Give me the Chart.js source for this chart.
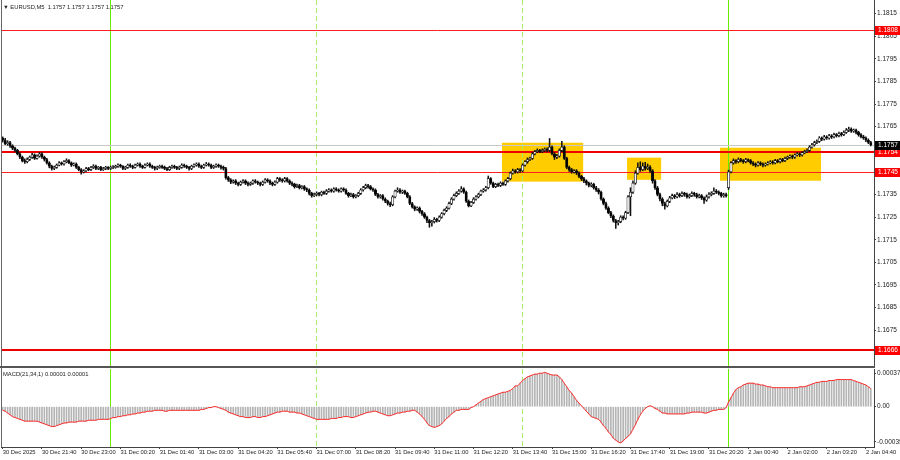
<!DOCTYPE html>
<html>
<head>
<meta charset="utf-8">
<title>EURUSD M5</title>
<script src="https://cdn.jsdelivr.net/npm/chart.js@4.4.1/dist/chart.umd.min.js"></script>
<style>
  body { margin: 0; background: #fff; }
  #chart { position: relative; width: 900px; height: 460px; font-family: "Liberation Sans", "DejaVu Sans", sans-serif; }
  .pane { position: absolute; left: 0; width: 900px; }
  .label { position: absolute; left: 3px; font-size: 5.8px; line-height: 8px; color: #222; white-space: pre; }
</style>
</head>
<body>
<div id="chart">
  <div class="pane" style="top:0;height:368px"><canvas id="price"></canvas></div>
  <div class="pane" style="top:368px;height:92px"><canvas id="macd"></canvas></div>
  <div class="label" style="top:3px">▼ EURUSD,M5  1.1757 1.1757 1.1757 1.1757</div>
  <div class="label" style="top:370px">MACD(21,34,1) 0.00001 0.00001</div>
</div>
<script>
// M5 bars from 30 Dec 20:20 to 2 Jan 04:50 (market closed on 1 Jan)
var tickBars = [0, 16, 32, 48, 64, 80, 96, 112, 128, 144, 160, 176, 192, 208, 224, 240, 256, 272, 288, 304, 320, 336, 352];
var tickLabels = ['30 Dec 2025', '30 Dec 21:40', '30 Dec 23:00', '31 Dec 00:20', '31 Dec 01:40', '31 Dec 03:00',
                  '31 Dec 04:20', '31 Dec 05:40', '31 Dec 07:00', '31 Dec 08:20', '31 Dec 09:40', '31 Dec 11:00',
                  '31 Dec 12:20', '31 Dec 13:40', '31 Dec 15:00', '31 Dec 16:20', '31 Dec 17:40', '31 Dec 19:00',
                  '31 Dec 20:20', '2 Jan 00:40', '2 Jan 02:00', '2 Jan 03:20', '2 Jan 04:40'];
var priceTicks = [1.1815, 1.1805, 1.1795, 1.1785, 1.1775, 1.1765, 1.1755, 1.1745, 1.1735, 1.1725, 1.1715,
                  1.1705, 1.1695, 1.1685, 1.1675, 1.1665];
var macdTicks = [37, 0, -39]; // in points of 0.00001

var opens = [
  1.17600,1.17590,1.17575,1.17580,1.17565,1.17555,1.17545,1.17530,1.17515,1.17500,
  1.17495,1.17505,1.17515,1.17525,1.17510,1.17520,1.17530,1.17515,1.17505,1.17490,
  1.17475,1.17465,1.17470,1.17480,1.17490,1.17485,1.17495,1.17500,1.17490,1.17480,
  1.17485,1.17470,1.17460,1.17450,1.17455,1.17465,1.17460,1.17470,1.17475,1.17465,
  1.17470,1.17460,1.17465,1.17470,1.17465,1.17470,1.17470,1.17475,1.17480,1.17475,
  1.17465,1.17470,1.17480,1.17475,1.17470,1.17480,1.17485,1.17475,1.17470,1.17480,
  1.17485,1.17475,1.17470,1.17465,1.17470,1.17475,1.17470,1.17465,1.17460,1.17470,
  1.17475,1.17470,1.17465,1.17470,1.17480,1.17475,1.17470,1.17465,1.17475,1.17480,
  1.17485,1.17475,1.17470,1.17480,1.17485,1.17480,1.17470,1.17475,1.17480,1.17475,
  1.17470,1.17465,1.17425,1.17415,1.17405,1.17410,1.17400,1.17395,1.17405,1.17410,
  1.17400,1.17395,1.17400,1.17410,1.17405,1.17400,1.17395,1.17405,1.17415,1.17410,
  1.17400,1.17395,1.17405,1.17420,1.17415,1.17410,1.17420,1.17410,1.17400,1.17395,
  1.17385,1.17390,1.17380,1.17385,1.17375,1.17370,1.17355,1.17345,1.17350,1.17355,
  1.17350,1.17360,1.17355,1.17365,1.17370,1.17365,1.17375,1.17370,1.17365,1.17375,
  1.17370,1.17355,1.17345,1.17350,1.17340,1.17345,1.17355,1.17370,1.17380,1.17390,
  1.17385,1.17375,1.17370,1.17350,1.17340,1.17345,1.17330,1.17320,1.17310,1.17305,
  1.17340,1.17365,1.17370,1.17360,1.17365,1.17355,1.17340,1.17310,1.17295,1.17285,
  1.17290,1.17275,1.17265,1.17250,1.17235,1.17225,1.17230,1.17240,1.17235,1.17250,
  1.17265,1.17280,1.17290,1.17310,1.17330,1.17345,1.17355,1.17365,1.17375,1.17360,
  1.17320,1.17300,1.17315,1.17330,1.17340,1.17350,1.17365,1.17370,1.17380,1.17420,
  1.17400,1.17385,1.17395,1.17390,1.17400,1.17395,1.17410,1.17420,1.17445,1.17455,
  1.17450,1.17460,1.17455,1.17480,1.17495,1.17505,1.17510,1.17530,1.17540,1.17545,
  1.17540,1.17545,1.17550,1.17545,1.17560,1.17530,1.17515,1.17520,1.17545,1.17560,
  1.17510,1.17470,1.17460,1.17450,1.17455,1.17445,1.17430,1.17420,1.17410,1.17400,
  1.17390,1.17395,1.17380,1.17370,1.17360,1.17330,1.17310,1.17290,1.17270,1.17255,
  1.17235,1.17225,1.17230,1.17250,1.17245,1.17270,1.17340,1.17360,1.17400,1.17445,
  1.17470,1.17460,1.17475,1.17465,1.17470,1.17455,1.17410,1.17380,1.17350,1.17330,
  1.17310,1.17300,1.17320,1.17335,1.17345,1.17340,1.17350,1.17345,1.17355,1.17350,
  1.17340,1.17345,1.17355,1.17350,1.17340,1.17345,1.17335,1.17325,1.17340,1.17350,
  1.17355,1.17365,1.17360,1.17355,1.17345,1.17350,1.17380,1.17450,1.17490,1.17500,
  1.17495,1.17505,1.17500,1.17495,1.17505,1.17500,1.17490,1.17485,1.17480,1.17490,
  1.17485,1.17480,1.17485,1.17490,1.17495,1.17490,1.17500,1.17495,1.17505,1.17500,
  1.17510,1.17515,1.17520,1.17515,1.17525,1.17530,1.17525,1.17535,1.17540,1.17545,
  1.17560,1.17570,1.17580,1.17585,1.17600,1.17595,1.17605,1.17600,1.17610,1.17605,
  1.17615,1.17610,1.17620,1.17615,1.17625,1.17635,1.17640,1.17630,1.17635,1.17625,
  1.17615,1.17605,1.17600,1.17590,1.17580];
var highs = [
  1.17605,1.17598,1.17588,1.17585,1.17570,1.17560,1.17550,1.17535,1.17520,1.17508,
  1.17512,1.17520,1.17532,1.17530,1.17525,1.17536,1.17535,1.17520,1.17510,1.17495,
  1.17480,1.17476,1.17485,1.17496,1.17494,1.17500,1.17508,1.17504,1.17494,1.17490,
  1.17490,1.17475,1.17465,1.17460,1.17470,1.17470,1.17475,1.17482,1.17480,1.17474,
  1.17475,1.17470,1.17475,1.17474,1.17476,1.17478,1.17480,1.17486,1.17484,1.17478,
  1.17475,1.17485,1.17486,1.17480,1.17485,1.17490,1.17490,1.17480,1.17486,1.17490,
  1.17490,1.17480,1.17475,1.17476,1.17480,1.17480,1.17476,1.17470,1.17475,1.17480,
  1.17480,1.17475,1.17476,1.17486,1.17485,1.17480,1.17475,1.17480,1.17486,1.17490,
  1.17490,1.17480,1.17485,1.17492,1.17490,1.17485,1.17480,1.17486,1.17485,1.17480,
  1.17476,1.17470,1.17430,1.17420,1.17415,1.17416,1.17405,1.17410,1.17416,1.17415,
  1.17406,1.17405,1.17415,1.17416,1.17410,1.17405,1.17410,1.17420,1.17420,1.17415,
  1.17405,1.17410,1.17426,1.17425,1.17420,1.17426,1.17425,1.17415,1.17406,1.17400,
  1.17396,1.17395,1.17390,1.17390,1.17380,1.17375,1.17360,1.17356,1.17362,1.17360,
  1.17365,1.17365,1.17372,1.17376,1.17375,1.17380,1.17380,1.17375,1.17380,1.17380,
  1.17375,1.17360,1.17356,1.17355,1.17350,1.17360,1.17376,1.17386,1.17396,1.17395,
  1.17390,1.17380,1.17375,1.17355,1.17350,1.17350,1.17335,1.17325,1.17316,1.17345,
  1.17370,1.17380,1.17376,1.17370,1.17370,1.17360,1.17345,1.17315,1.17300,1.17296,
  1.17295,1.17280,1.17270,1.17255,1.17240,1.17236,1.17248,1.17245,1.17256,1.17270,
  1.17286,1.17296,1.17316,1.17336,1.17352,1.17362,1.17372,1.17385,1.17380,1.17365,
  1.17326,1.17320,1.17336,1.17345,1.17356,1.17370,1.17376,1.17386,1.17432,1.17425,
  1.17405,1.17400,1.17400,1.17406,1.17405,1.17415,1.17426,1.17450,1.17462,1.17460,
  1.17466,1.17465,1.17486,1.17500,1.17512,1.17516,1.17536,1.17546,1.17552,1.17550,
  1.17552,1.17556,1.17556,1.17598,1.17565,1.17535,1.17528,1.17552,1.17585,1.17566,
  1.17515,1.17476,1.17466,1.17460,1.17460,1.17450,1.17435,1.17426,1.17415,1.17405,
  1.17402,1.17400,1.17386,1.17376,1.17365,1.17335,1.17316,1.17296,1.17276,1.17260,
  1.17240,1.17236,1.17256,1.17256,1.17276,1.17345,1.17380,1.17410,1.17455,1.17490,
  1.17495,1.17490,1.17492,1.17485,1.17478,1.17460,1.17416,1.17386,1.17356,1.17336,
  1.17316,1.17326,1.17342,1.17352,1.17350,1.17358,1.17356,1.17362,1.17360,1.17356,
  1.17352,1.17362,1.17360,1.17356,1.17352,1.17350,1.17340,1.17348,1.17358,1.17362,
  1.17380,1.17372,1.17366,1.17360,1.17356,1.17356,1.17458,1.17496,1.17508,1.17505,
  1.17512,1.17510,1.17505,1.17510,1.17508,1.17505,1.17496,1.17490,1.17496,1.17495,
  1.17490,1.17490,1.17496,1.17500,1.17500,1.17506,1.17505,1.17510,1.17510,1.17516,
  1.17520,1.17526,1.17525,1.17530,1.17536,1.17535,1.17540,1.17546,1.17552,1.17566,
  1.17576,1.17586,1.17592,1.17606,1.17605,1.17612,1.17610,1.17616,1.17615,1.17622,
  1.17620,1.17626,1.17625,1.17632,1.17642,1.17648,1.17645,1.17640,1.17640,1.17630,
  1.17620,1.17612,1.17605,1.17596,1.17585];
var lows = [
  1.17582,1.17570,1.17568,1.17558,1.17548,1.17538,1.17525,1.17508,1.17494,1.17488,
  1.17490,1.17500,1.17510,1.17505,1.17506,1.17515,1.17510,1.17498,1.17484,1.17468,
  1.17458,1.17460,1.17466,1.17476,1.17480,1.17480,1.17490,1.17486,1.17474,1.17476,
  1.17465,1.17455,1.17440,1.17445,1.17450,1.17455,1.17456,1.17465,1.17460,1.17460,
  1.17455,1.17456,1.17460,1.17460,1.17460,1.17464,1.17466,1.17470,1.17470,1.17460,
  1.17460,1.17465,1.17470,1.17464,1.17466,1.17476,1.17470,1.17465,1.17466,1.17476,
  1.17470,1.17465,1.17458,1.17460,1.17466,1.17465,1.17460,1.17455,1.17456,1.17465,
  1.17465,1.17460,1.17460,1.17466,1.17470,1.17465,1.17458,1.17460,1.17470,1.17475,
  1.17470,1.17464,1.17465,1.17476,1.17475,1.17464,1.17465,1.17470,1.17470,1.17462,
  1.17458,1.17418,1.17408,1.17398,1.17400,1.17394,1.17388,1.17390,1.17400,1.17394,
  1.17388,1.17390,1.17395,1.17400,1.17394,1.17388,1.17390,1.17400,1.17404,1.17394,
  1.17388,1.17390,1.17400,1.17408,1.17404,1.17405,1.17405,1.17394,1.17388,1.17378,
  1.17380,1.17374,1.17375,1.17368,1.17362,1.17348,1.17338,1.17340,1.17344,1.17344,
  1.17344,1.17350,1.17350,1.17360,1.17360,1.17360,1.17365,1.17360,1.17360,1.17364,
  1.17350,1.17338,1.17340,1.17334,1.17335,1.17340,1.17350,1.17365,1.17375,1.17378,
  1.17370,1.17364,1.17345,1.17334,1.17334,1.17325,1.17314,1.17303,1.17296,1.17300,
  1.17335,1.17360,1.17355,1.17354,1.17350,1.17335,1.17305,1.17290,1.17278,1.17280,
  1.17268,1.17258,1.17244,1.17225,1.17205,1.17210,1.17224,1.17228,1.17230,1.17245,
  1.17260,1.17274,1.17285,1.17305,1.17325,1.17340,1.17350,1.17360,1.17355,1.17315,
  1.17295,1.17296,1.17310,1.17325,1.17335,1.17345,1.17360,1.17365,1.17375,1.17395,
  1.17380,1.17380,1.17385,1.17385,1.17390,1.17390,1.17405,1.17415,1.17440,1.17444,
  1.17445,1.17448,1.17450,1.17475,1.17488,1.17500,1.17505,1.17525,1.17535,1.17535,
  1.17535,1.17540,1.17538,1.17540,1.17525,1.17505,1.17508,1.17515,1.17540,1.17505,
  1.17464,1.17452,1.17444,1.17444,1.17438,1.17424,1.17412,1.17402,1.17392,1.17384,
  1.17384,1.17374,1.17364,1.17352,1.17325,1.17304,1.17284,1.17265,1.17248,1.17228,
  1.17200,1.17215,1.17225,1.17238,1.17240,1.17265,1.17256,1.17355,1.17395,1.17440,
  1.17452,1.17455,1.17458,1.17460,1.17448,1.17400,1.17372,1.17344,1.17322,1.17300,
  1.17285,1.17295,1.17314,1.17330,1.17332,1.17335,1.17338,1.17340,1.17342,1.17334,
  1.17334,1.17340,1.17342,1.17334,1.17335,1.17328,1.17310,1.17320,1.17334,1.17344,
  1.17350,1.17354,1.17348,1.17338,1.17338,1.17338,1.17372,1.17445,1.17484,1.17488,
  1.17490,1.17494,1.17488,1.17490,1.17494,1.17484,1.17478,1.17472,1.17475,1.17478,
  1.17472,1.17475,1.17480,1.17485,1.17484,1.17485,1.17490,1.17490,1.17494,1.17495,
  1.17504,1.17510,1.17508,1.17510,1.17520,1.17518,1.17520,1.17530,1.17535,1.17540,
  1.17555,1.17564,1.17575,1.17580,1.17588,1.17590,1.17594,1.17595,1.17598,1.17600,
  1.17604,1.17605,1.17608,1.17610,1.17620,1.17628,1.17625,1.17625,1.17618,1.17608,
  1.17600,1.17594,1.17584,1.17575,1.17565];
var closes = [
  1.17590,1.17575,1.17580,1.17565,1.17555,1.17545,1.17530,1.17515,1.17500,1.17495,
  1.17505,1.17515,1.17525,1.17510,1.17520,1.17530,1.17515,1.17505,1.17490,1.17475,
  1.17465,1.17470,1.17480,1.17490,1.17485,1.17495,1.17500,1.17490,1.17480,1.17485,
  1.17470,1.17460,1.17450,1.17455,1.17465,1.17460,1.17470,1.17475,1.17465,1.17470,
  1.17460,1.17465,1.17470,1.17465,1.17470,1.17470,1.17475,1.17480,1.17475,1.17465,
  1.17470,1.17480,1.17475,1.17470,1.17480,1.17485,1.17475,1.17470,1.17480,1.17485,
  1.17475,1.17470,1.17465,1.17470,1.17475,1.17470,1.17465,1.17460,1.17470,1.17475,
  1.17470,1.17465,1.17470,1.17480,1.17475,1.17470,1.17465,1.17475,1.17480,1.17485,
  1.17475,1.17470,1.17480,1.17485,1.17480,1.17470,1.17475,1.17480,1.17475,1.17470,
  1.17465,1.17425,1.17415,1.17405,1.17410,1.17400,1.17395,1.17405,1.17410,1.17400,
  1.17395,1.17400,1.17410,1.17405,1.17400,1.17395,1.17405,1.17415,1.17410,1.17400,
  1.17395,1.17405,1.17420,1.17415,1.17410,1.17420,1.17410,1.17400,1.17395,1.17385,
  1.17390,1.17380,1.17385,1.17375,1.17370,1.17355,1.17345,1.17350,1.17355,1.17350,
  1.17360,1.17355,1.17365,1.17370,1.17365,1.17375,1.17370,1.17365,1.17375,1.17370,
  1.17355,1.17345,1.17350,1.17340,1.17345,1.17355,1.17370,1.17380,1.17390,1.17385,
  1.17375,1.17370,1.17350,1.17340,1.17345,1.17330,1.17320,1.17310,1.17305,1.17340,
  1.17365,1.17370,1.17360,1.17365,1.17355,1.17340,1.17310,1.17295,1.17285,1.17290,
  1.17275,1.17265,1.17250,1.17235,1.17225,1.17230,1.17240,1.17235,1.17250,1.17265,
  1.17280,1.17290,1.17310,1.17330,1.17345,1.17355,1.17365,1.17375,1.17360,1.17320,
  1.17300,1.17315,1.17330,1.17340,1.17350,1.17365,1.17370,1.17380,1.17420,1.17400,
  1.17385,1.17395,1.17390,1.17400,1.17395,1.17410,1.17420,1.17445,1.17455,1.17450,
  1.17460,1.17455,1.17480,1.17495,1.17505,1.17510,1.17530,1.17540,1.17545,1.17540,
  1.17545,1.17550,1.17545,1.17560,1.17530,1.17515,1.17520,1.17545,1.17560,1.17510,
  1.17470,1.17460,1.17450,1.17455,1.17445,1.17430,1.17420,1.17410,1.17400,1.17390,
  1.17395,1.17380,1.17370,1.17360,1.17330,1.17310,1.17290,1.17270,1.17255,1.17235,
  1.17225,1.17230,1.17250,1.17245,1.17270,1.17340,1.17360,1.17400,1.17445,1.17470,
  1.17460,1.17475,1.17465,1.17470,1.17455,1.17410,1.17380,1.17350,1.17330,1.17310,
  1.17300,1.17320,1.17335,1.17345,1.17340,1.17350,1.17345,1.17355,1.17350,1.17340,
  1.17345,1.17355,1.17350,1.17340,1.17345,1.17335,1.17325,1.17340,1.17350,1.17355,
  1.17365,1.17360,1.17355,1.17345,1.17350,1.17345,1.17450,1.17490,1.17500,1.17495,
  1.17505,1.17500,1.17495,1.17505,1.17500,1.17490,1.17485,1.17480,1.17490,1.17485,
  1.17480,1.17485,1.17490,1.17495,1.17490,1.17500,1.17495,1.17505,1.17500,1.17510,
  1.17515,1.17520,1.17515,1.17525,1.17530,1.17525,1.17535,1.17540,1.17545,1.17560,
  1.17570,1.17580,1.17585,1.17600,1.17595,1.17605,1.17600,1.17610,1.17605,1.17615,
  1.17610,1.17620,1.17615,1.17625,1.17635,1.17640,1.17630,1.17635,1.17625,1.17615,
  1.17605,1.17600,1.17590,1.17580,1.17570];

// MACD(21,34,1) main value, in points of 0.00001 (signal period 1 = same line)
var macd = [
  -4,-5,-7,-9,-11,-12,-13,-14,-15,-16,
  -16,-16,-16,-16,-16,-17,-18,-19,-20,-21,
  -22,-22,-21,-20,-19,-18,-18,-17,-17,-17,
  -17,-16,-16,-16,-16,-15,-15,-15,-15,-14,
  -14,-14,-14,-14,-13,-12,-12,-11,-11,-10,
  -10,-9,-9,-8,-8,-7,-7,-6,-6,-5,
  -5,-5,-4,-4,-4,-4,-5,-5,-4,-4,
  -4,-4,-4,-4,-4,-4,-4,-4,-4,-4,
  -4,-3,-3,-2,-1,-1,0,0,-1,-2,
  -3,-4,-6,-7,-8,-9,-10,-11,-11,-12,
  -12,-12,-11,-11,-12,-12,-11,-11,-10,-9,
  -8,-7,-6,-6,-5,-5,-5,-6,-6,-6,
  -7,-7,-8,-9,-10,-11,-12,-13,-14,-14,
  -14,-14,-14,-14,-13,-13,-13,-12,-12,-11,
  -11,-11,-12,-12,-11,-10,-9,-8,-7,-6,
  -6,-5,-5,-6,-7,-8,-9,-10,-10,-9,
  -8,-7,-7,-6,-6,-5,-5,-4,-4,-6,
  -8,-11,-14,-18,-21,-22,-23,-22,-21,-19,
  -16,-13,-11,-8,-6,-4,-4,-3,-3,-3,
  -3,-1,0,2,4,6,8,9,10,11,
  12,13,14,15,16,16,17,18,20,23,
  23,26,29,31,33,34,35,36,36,37,
  37,38,37,36,35,35,35,33,30,26,
  22,18,15,11,7,4,1,-2,-5,-8,
  -11,-12,-13,-14,-17,-21,-24,-28,-31,-35,
  -37,-39,-40,-38,-35,-33,-30,-25,-20,-14,
  -9,-5,-2,0,1,0,-2,-3,-5,-7,
  -7,-8,-8,-8,-8,-8,-8,-8,-8,-7,
  -7,-6,-6,-6,-6,-6,-7,-7,-6,-5,
  -4,-4,-3,-3,-3,-1,5,10,15,19,
  21,22,24,25,26,26,26,25,25,24,
  24,23,22,22,21,21,21,21,21,21,
  21,21,21,21,21,22,22,22,23,24,
  25,26,27,27,28,28,28,29,29,29,
  30,30,30,30,30,30,30,29,28,27,
  26,25,24,22,20];

var redLevels = [1.1808, 1.1754, 1.1745, 1.1666];
var bidPrice = 1.1757;
var daySeps = [43.7, 295.8];     // 31 Dec 00:00, 2 Jan 00:00
var sessionSeps = [127.6, 211.6]; // 31 Dec 07:00, 31 Dec 14:00
// yellow zones: first bar, last bar, low price, high price
var zones = [[203.6, 236.7, 1.17407, 1.17579],
             [254.6, 268.5, 1.17415, 1.17513],
             [292.5, 333.7, 1.17411, 1.17557]];

var FONT = '"Liberation Sans", "DejaVu Sans", sans-serif';
var redWidths = [1, 2, 1, 2];
var X_MIN = -0.7, X_MAX = 355.3;

var bars = closes.map(function (c, i) { return i; });

function crisp(v) { return Math.round(v) + 0.5; }

function drawSeps(chart) {
    var ctx = chart.ctx, a = chart.chartArea, x = chart.scales.x;
    ctx.save();
    ctx.lineWidth = 1;
    ctx.strokeStyle = '#66ee00';
    daySeps.forEach(function (b) {
        var px = crisp(x.getPixelForValue(b));
        ctx.beginPath(); ctx.moveTo(px, a.top); ctx.lineTo(px, a.bottom); ctx.stroke();
    });
    ctx.strokeStyle = '#a8ec6a';
    ctx.setLineDash([5, 3]);
    sessionSeps.forEach(function (b) {
        var px = crisp(x.getPixelForValue(b));
        ctx.beginPath(); ctx.moveTo(px, a.top); ctx.lineTo(px, a.bottom); ctx.stroke();
    });
    ctx.restore();
}

function drawFrame(chart) {
    var ctx = chart.ctx, a = chart.chartArea;
    ctx.save();
    ctx.fillStyle = '#666';
    ctx.fillRect(Math.round(a.left), 0, 1, a.bottom);
    ctx.restore();
}

var pricePlugin = {
    id: 'pricePlugin',
    beforeDatasetsDraw: function (chart) {
        var ctx = chart.ctx, a = chart.chartArea, x = chart.scales.x, y = chart.scales.y;
        ctx.save();
        ctx.beginPath();
        ctx.rect(a.left, a.top, a.right - a.left, a.bottom - a.top);
        ctx.clip();
        ctx.fillStyle = '#ffcc00';
        zones.forEach(function (z) {
            var x0 = x.getPixelForValue(z[0]), x1 = x.getPixelForValue(z[1]);
            var y0 = y.getPixelForValue(z[3]), y1 = y.getPixelForValue(z[2]);
            ctx.fillRect(x0, y0, x1 - x0, y1 - y0);
        });
        ctx.restore();
        drawSeps(chart);
        ctx.save();
        ctx.strokeStyle = '#c8c8c8';
        ctx.lineWidth = 1;
        var by = crisp(y.getPixelForValue(bidPrice));
        ctx.beginPath(); ctx.moveTo(a.left, by); ctx.lineTo(a.right, by); ctx.stroke();
        redLevels.forEach(function (v, k) {
            var py = y.getPixelForValue(v);
            ctx.strokeStyle = redWidths[k] > 1 ? '#ee0000' : '#ff2020';
            ctx.lineWidth = redWidths[k];
            py = redWidths[k] > 1 ? Math.round(py) : crisp(py);
            ctx.beginPath(); ctx.moveTo(a.left, py); ctx.lineTo(a.right, py); ctx.stroke();
        });
        ctx.restore();
    },
    afterDraw: function (chart) {
        var ctx = chart.ctx, a = chart.chartArea, y = chart.scales.y;
        drawFrame(chart);
        ctx.save();
        ctx.fillStyle = '#555';
        ctx.fillRect(0, a.bottom, a.right + 1, 2);
        var tags = redLevels.map(function (v) { return [v, '#ff0000']; });
        tags.push([bidPrice, '#000000']);
        ctx.font = '6.5px ' + FONT;
        ctx.textBaseline = 'middle';
        tags.forEach(function (t) {
            var py = Math.round(y.getPixelForValue(t[0]));
            ctx.fillStyle = t[1];
            ctx.fillRect(a.right + 1, py - 4, chart.width - a.right - 1, 9);
            ctx.fillStyle = '#ffffff';
            ctx.fillText(t[0].toFixed(4), a.right + 4, py + 0.5);
        });
        ctx.restore();
    }
};

var macdPlugin = {
    id: 'macdPlugin',
    beforeDatasetsDraw: function (chart) { drawSeps(chart); },
    afterDraw: function (chart) { drawFrame(chart); }
};

new Chart(document.getElementById('price'), {
    type: 'bar',
    data: {
        datasets: [{
            label: 'body',
            data: bars.map(function (i) { return {x: i, y: [opens[i], closes[i]]}; }),
            backgroundColor: bars.map(function (i) { return closes[i] >= opens[i] ? '#ffffff' : '#000000'; }),
            borderColor: '#111111',
            borderWidth: 0.7,
            borderSkipped: false,
            barThickness: 2.4,
            grouped: false,
            order: 0
        }, {
            label: 'wick',
            data: bars.map(function (i) { return {x: i, y: [lows[i], highs[i]]}; }),
            backgroundColor: '#111111',
            barThickness: 0.9,
            grouped: false,
            order: 1
        }]
    },
    options: {
        responsive: true,
        maintainAspectRatio: false,
        animation: false,
        devicePixelRatio: 1,
        layout: {padding: {left: 1, top: 0, right: 0, bottom: 2}},
        plugins: {legend: {display: false}, tooltip: {enabled: false}},
        scales: {
            x: {type: 'linear', min: X_MIN, max: X_MAX, offset: false, display: false},
            y: {
                position: 'right',
                min: 1.165912,
                max: 1.182106,
                afterBuildTicks: function (s) { s.ticks = priceTicks.map(function (v) { return {value: v}; }); },
                afterFit: function (s) { s.width = 26; s.paddingTop = 0; s.paddingBottom = 0; },
                ticks: {
                    font: {family: FONT, size: 6.5},
                    color: '#222',
                    padding: 1,
                    callback: function (v) { return v.toFixed(4); }
                },
                grid: {drawOnChartArea: false, tickLength: 2, color: '#444'},
                border: {color: '#444', width: 1}
            }
        }
    },
    plugins: [pricePlugin]
});

new Chart(document.getElementById('macd'), {
    type: 'bar',
    data: {
        datasets: [{
            type: 'line',
            label: 'signal',
            data: bars.map(function (i) { return {x: i, y: macd[i]}; }),
            borderColor: '#ff2a2a',
            borderWidth: 1,
            pointRadius: 0,
            tension: 0,
            order: 0
        }, {
            label: 'MACD',
            data: bars.map(function (i) { return {x: i, y: macd[i]}; }),
            backgroundColor: '#b4b4b4',
            barThickness: 1,
            grouped: false,
            order: 1
        }]
    },
    options: {
        responsive: true,
        maintainAspectRatio: false,
        animation: false,
        devicePixelRatio: 1,
        layout: {padding: {left: 1, top: 1, right: 0, bottom: 0}},
        plugins: {legend: {display: false}, tooltip: {enabled: false}},
        scales: {
            x: {
                type: 'linear', min: X_MIN, max: X_MAX, offset: false,
                afterBuildTicks: function (s) { s.ticks = tickBars.map(function (v) { return {value: v}; }); },
                afterFit: function (s) { s.height = 13; s.paddingLeft = 0; s.paddingRight = 0; },
                ticks: {
                    autoSkip: false, maxRotation: 0, minRotation: 0, align: 'start', padding: 0,
                    font: {family: FONT, size: 5.8},
                    color: '#222',
                    callback: function (v, i) { return tickLabels[i]; }
                },
                grid: {drawOnChartArea: false, offset: false, tickLength: 2, color: '#444'},
                border: {color: '#444', width: 1}
            },
            y: {
                position: 'right',
                min: -44.6,
                max: 41.7,
                afterBuildTicks: function (s) { s.ticks = macdTicks.map(function (v) { return {value: v}; }); },
                afterFit: function (s) { s.width = 26; s.paddingTop = 0; s.paddingBottom = 0; },
                ticks: {
                    font: {family: FONT, size: 6.5},
                    color: '#222',
                    padding: 1,
                    callback: function (v) { return v === 0 ? '0.00' : (v / 100000).toFixed(5); }
                },
                grid: {drawOnChartArea: false, tickLength: 2, color: '#444'},
                border: {color: '#444', width: 1}
            }
        }
    },
    plugins: [macdPlugin]
});
</script>
</body>
</html>
